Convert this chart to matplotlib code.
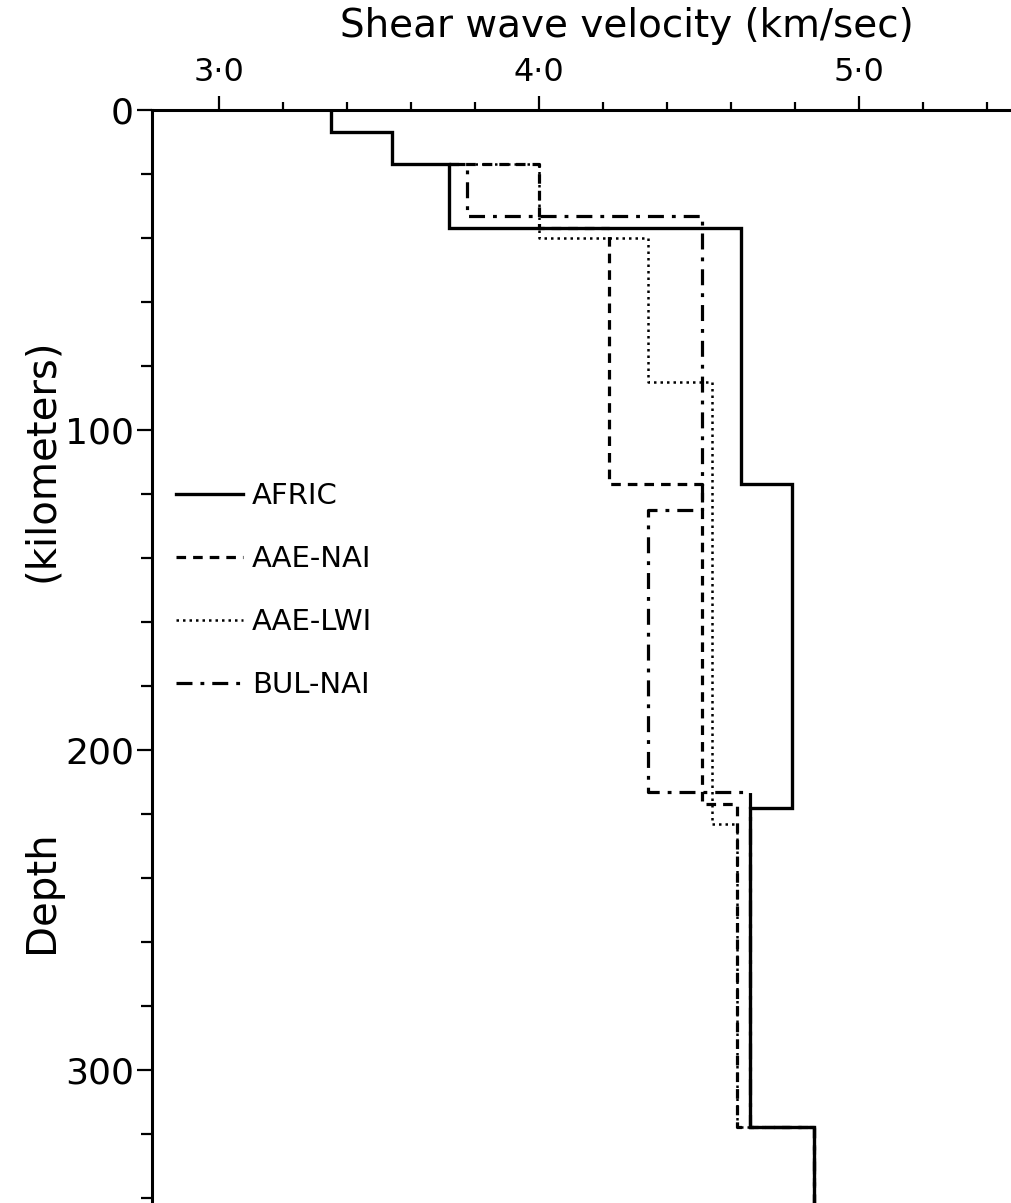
import matplotlib
matplotlib.use("Agg")
import matplotlib.pyplot as plt
from matplotlib.lines import Line2D
import numpy as np

# ---- data (layer tops in km, shear velocity in km/s) ----
bottom_depth = 341.6
afric_tops = [0, 7, 17, 37, 117, 218, 318]
afric_vel = [3.35, 3.54, 3.72, 4.63, 4.79, 4.66, 4.86]
aaenai_tops = [17, 17, 37, 117, 217, 318]
aaenai_vel = [3.72, 4.00, 4.22, 4.51, 4.62, 4.86]
aaelwi_tops = [17, 17, 40, 85, 223, 318]
aaelwi_vel = [3.72, 4.00, 4.34, 4.54, 4.62, 4.86]
bulnai_tops = [17, 17, 33, 125, 213, 318]
bulnai_vel = [3.72, 3.775, 4.51, 4.34, 4.66, 4.86]

series_names = ["AFRIC", "AAE-NAI", "AAE-LWI", "BUL-NAI"]
x_major = [3.0, 4.0, 5.0]
x_major_labels = ["3·0", "4·0", "5·0"]
y_major = [0, 100, 200, 300]
y_major_labels = ["0", "100", "200", "300"]


def step_profile(tops, vels, bottom):
    xs, ys = [], []
    bounds = list(tops) + [bottom]
    for i, v in enumerate(vels):
        xs += [v, v]
        ys += [bounds[i], bounds[i + 1]]
    return xs, ys


plt.rcParams['font.family'] = ['DejaVu Sans']

fig = plt.figure(figsize=(10.12, 12.03), dpi=100)
W, H = 1012, 1203
ax = fig.add_axes([152 / W, 0, (W - 152) / W, (H - 110) / H])

styles = [
    dict(ls='-', lw=2.4),
    dict(ls=(0, (3.0, 2.2)), lw=2.3),
    dict(ls=(0, (1.0, 1.6)), lw=1.8),
    dict(ls=(0, (5, 2.5, 1.2, 2.5)), lw=2.3),
]
data = [(afric_tops, afric_vel), (aaenai_tops, aaenai_vel),
        (aaelwi_tops, aaelwi_vel), (bulnai_tops, bulnai_vel)]
for (tops, vels), st in zip(data, styles):
    xs, ys = step_profile(tops, vels, bottom_depth)
    ax.plot(xs, ys, color='black', solid_joinstyle='miter', **st)

x0 = 3.0 + (152 - 219) / 320
x1 = 3.0 + (W - 219) / 320
ax.set_xlim(x0, x1)
ax.set_ylim(bottom_depth, 0)

for s in ['right', 'bottom']:
    ax.spines[s].set_visible(False)
for s in ['left', 'top']:
    ax.spines[s].set_linewidth(2.2)

ax.xaxis.tick_top()
ax.set_xticks(x_major)
ax.set_xticklabels(x_major_labels)
ax.set_xticks(np.arange(3.2, 5.5, 0.2), minor=True)
ax.set_yticks(y_major)
ax.set_yticklabels(y_major_labels)
ax.set_yticks(np.arange(20, 341, 20), minor=True)

ax.tick_params(axis='x', which='major', direction='out', length=10, width=1.6,
               labelsize=23, pad=6)
ax.tick_params(axis='x', which='minor', direction='out', length=6, width=1.6)
ax.tick_params(axis='y', which='major', direction='out', length=11, width=1.6,
               labelsize=26, pad=2)
ax.tick_params(axis='y', which='minor', direction='out', length=8, width=1.6)

fig.text(627 / W, 1 - 26 / H, "Shear wave velocity (km/sec)", ha='center',
         va='center', fontsize=28)
fig.text(42 / W, 1 - 460 / H, "(kilometers)", rotation=90, ha='center',
         va='center', fontsize=29)
fig.text(42 / W, 1 - 892 / H, "Depth", rotation=90, ha='center',
         va='center', fontsize=29)

handles = [Line2D([], [], color='black', **st) for st in styles]
ax.legend(handles, series_names, loc='upper left',
          bbox_to_anchor=((176 - 152) / (W - 152), 1 - (482 - 110) / (H - 110)),
          frameon=False, fontsize=21, handlelength=2.3, handletextpad=0.3,
          labelspacing=1.2, borderpad=0, borderaxespad=0)

fig.savefig("out.png", dpi=100)
